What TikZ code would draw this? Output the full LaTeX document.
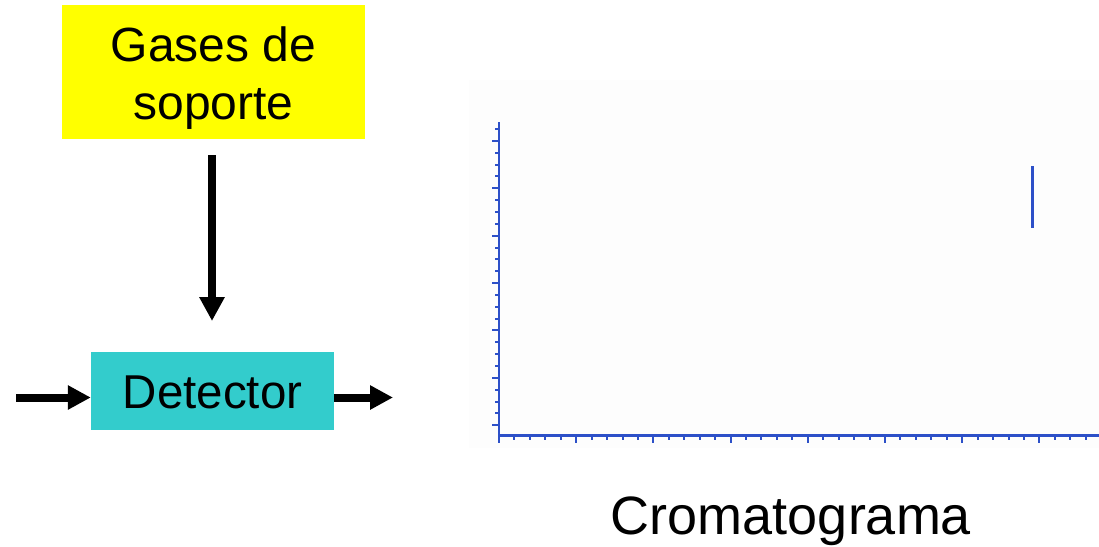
\documentclass[tikz,border=0pt]{standalone}
\usepackage{fontspec}
\setmainfont{Liberation Sans}
\usetikzlibrary{arrows.meta}
\definecolor{gasyellow}{RGB}{255,255,0}
\definecolor{detcyan}{RGB}{51,204,204}
\definecolor{axisblue}{RGB}{45,80,200}
\definecolor{panelgray}{RGB}{253,253,253}
\begin{document}
\begin{tikzpicture}[x=1pt,y=1pt,
  gasbox/.style={rectangle, fill=gasyellow, inner sep=0pt, minimum width=303pt, minimum height=134pt, align=center, font=\fontsize{48}{58}\selectfont},
  detbox/.style={rectangle, fill=detcyan, inner sep=0pt, minimum width=243pt, minimum height=78pt, text height=34pt, text depth=0pt, font=\fontsize{47.5}{57}\selectfont},
  flowarrow/.style={line width=7.5pt, -{Triangle[length=24pt,width=24pt]}},
  sidearrow/.style={line width=8pt, -{Triangle[length=23pt,width=23pt]}},
  axisline/.style={draw=axisblue, line width=2.5pt},
  tickline/.style={draw=axisblue, line width=2pt},
  peakline/.style={draw=axisblue, line width=3pt},
  caption/.style={anchor=base, font=\fontsize{54}{64}\selectfont}
]
\useasboundingbox (0,0) rectangle (1099,-546);
% chromatogram panel background
\fill[panelgray] (469,-80) rectangle (1099,-448);

% boxes
\node[gasbox] (gas) at (213.5,-72) {\rule{0pt}{46pt}Gases de\\soporte};
\node[detbox] (det) at (212.5,-391) {Detector};

% arrows
\coordinate (gasout) at (212,-155);
\coordinate (detin) at (212,-321);
\draw[flowarrow] (gasout) -- (detin);
\coordinate (inlet) at (16,-397.5);
\coordinate (outlet) at (393,-397.5);
\draw[sidearrow] (inlet) -- (inlet -| det.west);
\draw[sidearrow] (det.east |- outlet) -- (outlet);

% axes
\coordinate (origin) at (499,-435.5);
\coordinate (ytop) at (499,-122);
\coordinate (xend) at (1099,-435.5);
\draw[axisline] (ytop) -- (origin) -- (xend);
\foreach \i in {0,...,25} {
  \pgfmathsetmacro\yy{-(129+11.85*\i)}
  \pgfmathsetmacro\len{ifthenelse(mod(\i,4)==1,7,4.5)}
  \draw[tickline] (499,\yy) -- ++(-\len,0);
}
\foreach \i in {0,...,38} {
  \pgfmathsetmacro\xx{499+15.44*\i}
  \pgfmathsetmacro\len{ifthenelse(mod(\i,5)==0,7.5,4.5)}
  \draw[tickline] (\xx,-435.5) -- ++(0,-\len);
}
% peak
\coordinate (peaktop) at (1032,-166);
\coordinate (peakbot) at (1032,-228);
\draw[peakline] (peaktop) -- (peakbot);

% caption
\node[caption] (cap) at (791,-534) {Cromatograma};
\end{tikzpicture}
\end{document}
